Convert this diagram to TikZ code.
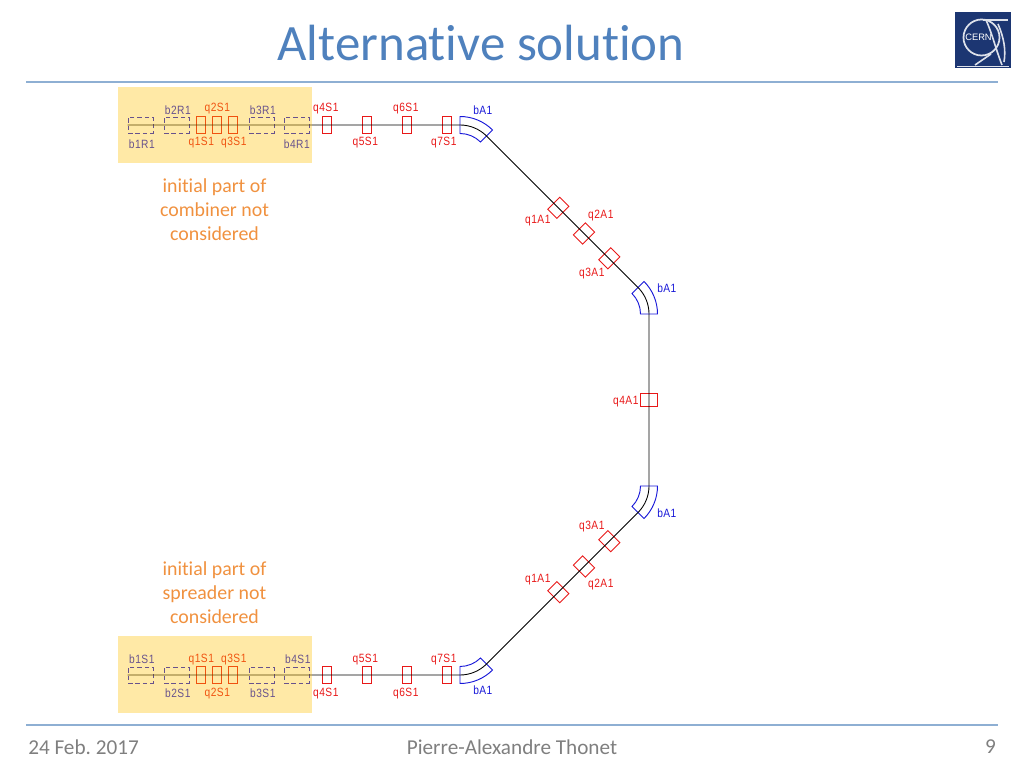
\documentclass[tikz,border=0pt]{standalone}
\usepackage{fontspec}
\setmainfont[Ligatures=NoCommon]{Carlito}
\newfontfamily\cadfont[LetterSpace=4,FakeStretch=0.85]{Liberation Sans}
\newfontfamily\logofont{Liberation Sans}
\usepackage{tikz}
\definecolor{titleblue}{HTML}{4F81BD}
\definecolor{rulegrey}{HTML}{8EAFD3}
\definecolor{footgrey}{HTML}{7F7F7F}
\definecolor{noteorange}{HTML}{F0913F}
\definecolor{bandyellow}{HTML}{FFC000}
\definecolor{cernblue}{HTML}{1C3672}
\definecolor{cadred}{HTML}{E81818}
\definecolor{cadblue}{HTML}{1818D8}
\tikzset{
  beamline/.style={black,line width=0.65pt},
  quad/.style={draw=cadred,line width=0.7pt,inner sep=0pt,minimum width=6.75pt,minimum height=12.75pt},
  quadA/.style={draw=cadred,line width=0.7pt,inner sep=0pt,minimum width=9.75pt,minimum height=12.75pt},
  dipole/.style={draw=cadblue,dash pattern=on 3.4pt off 2.2pt,line width=0.7pt,inner sep=0pt,minimum width=18.75pt,minimum height=12pt},
  magbend/.style={draw=cadblue,line width=0.7pt},
  redtag/.style={text=cadred,font=\cadfont\fontsize{9}{10}\selectfont,inner sep=0pt,xshift=0.6pt,yshift=-0.1pt},
  bluetag/.style={text=cadblue,font=\cadfont\fontsize{9}{10}\selectfont,inner sep=0pt,xshift=0.6pt,yshift=-0.1pt},
  note/.style={text=noteorange,font=\fontsize{14.9}{18}\selectfont,align=center,inner sep=0pt},
  foot/.style={text=footgrey,font=\frenchspacing\fontsize{15.9}{18}\selectfont,inner sep=0pt}
}
\newcommand{\bendmag}[4]{
\draw[magbend,shift={(#1,#2)}] (#3:29) arc[start angle=#3,end angle=#4,radius=21.75pt] -- (#4:46) arc[start angle=#4,end angle=#3,radius=34.5pt] -- cycle;
}
\begin{document}
\begin{tikzpicture}[line cap=butt,line join=miter,x=0.75pt,y=0.75pt]
\useasboundingbox (0,0) rectangle (1024,768);
% header and footer
\node[text=titleblue,font=\fontsize{38.2}{44}\selectfont,inner sep=0pt] (title) at (481,725) {Alternative solution};
\coordinate (headL) at (26,686);
\coordinate (headR) at (998,686);
\coordinate (footL) at (26,43);
\coordinate (footR) at (998,43);
\draw[rulegrey,line width=1pt] (headL) -- (headR);
\draw[rulegrey,line width=1pt] (footL) -- (footR);
\node[foot,anchor=west] (date) at (28,21) {24 Feb. 2017};
\node[foot] (speaker) at (512,21) {Pierre-Alexandre Thonet};
\node[foot,anchor=east] (page) at (996,21) {9};
% logo
\fill[cernblue] (955,700) rectangle (1011,756);
\begin{scope}
\clip (955,700) rectangle (1011,756);
\draw[white!85!cernblue,line width=1.3pt] (981.5,730.5) circle[radius=18];
\draw[white!85!cernblue,line width=1.3pt] (983,748) -- (1008,748);
\draw[white!85!cernblue,line width=1.2pt] (998,744) .. controls (1004,730) and (1006,718) .. (1004,706);
\draw[white!85!cernblue,line width=1.2pt] (986,748) .. controls (992,735) and (996,718) .. (1002,703);
\draw[white!85!cernblue,line width=1.2pt] (975,703) -- (991,714);
\draw[white!85!cernblue,line width=0.8pt] (957,701.5) -- (1009,701.5);
\end{scope}
\node[text=white,font=\logofont\fontsize{7}{8}\selectfont,inner sep=0pt] (cern) at (978.5,731) {CERN};
% dipoles and quadrupoles
\foreach \x/\name in {140.5/b1,176.5/b2,261.5/b3,296.5/b4}{
\node[dipole] (\name R) at (\x,643) {};
\node[dipole] (\name S) at (\x,93) {};
}
\foreach \x/\name in {200.5/q1,216.5/q2,232.5/q3,326.5/q4,366.5/q5,406.5/q6,446.5/q7}{
\node[quad] (\name R) at (\x,643) {};
\node[quad] (\name S) at (\x,93) {};
}
\foreach \x/\y/\name in {558.3/560.2/q1u,584/534.5/q2u,609.3/509.7/q3u}
\node[quadA,rotate=-45] (\name) at (\x,\y) {};
\foreach \x/\y/\name in {558.3/175.8/q1d,584/201.5/q2d,609.3/226.8/q3d}
\node[quadA,rotate=45] (\name) at (\x,\y) {};
\node[quadA,rotate=90] (q4m) at (649,368) {};
% bends
\bendmag{460}{605.5}{90}{45}
\bendmag{611.5}{454}{45}{0}
\bendmag{611.5}{282}{0}{-45}
\bendmag{460}{130.5}{-45}{-90}
% beam
\coordinate (bendA) at (460,643);
\coordinate (bendB) at (638.02,480.52);
\coordinate (bendC) at (649,282);
\coordinate (bendD) at (486.52,103.98);
\draw[beamline] (b1R.west) -- (bendA) arc[start angle=90,end angle=45,radius=28.125pt] -- (bendB) arc[start angle=45,end angle=0,radius=28.125pt] -- (bendC) arc[start angle=0,end angle=-45,radius=28.125pt] -- (bendD) arc[start angle=-45,end angle=-90,radius=28.125pt] -- (b1S.west);
% labels
\foreach \x/\y/\txt in {216.5/660/q2S1,325/660/q4S1,405/660/q6S1,200.5/626/q1S1,233/626/q3S1,364.5/626/q5S1,443/626/q7S1,
537/548/q1A1,600/553/q2A1,591/495/q3A1,625/367/q4A1,591/242/q3A1,600/184/q2A1,537/189/q1A1,
200.5/109/q1S1,233/109/q3S1,364.5/109/q5S1,443/109/q7S1,216.5/75/q2S1,325/75/q4S1,405/75/q6S1}
\node[redtag] (tag\x-\y) at (\x,\y) {\txt};
\foreach \x/\y/\txt in {177/658/b2R1,262/658/b3R1,141/624/b1R1,296/624/b4R1,482/658/bA1,666/480/bA1,666/255/bA1,
141/109/b1S1,297/109/b4S1,177/75/b2S1,262/75/b3S1,482/78/bA1}
\node[bluetag] (tag\x-\y) at (\x,\y) {\txt};
% overlays
\fill[bandyellow,fill opacity=0.35] (118,605) rectangle (311.5,681);
\fill[bandyellow,fill opacity=0.35] (118,55.5) rectangle (311.5,132);
\node[note] (noteR) at (214.5,558.4) {initial part of\\combiner not\\considered};
\node[note] (noteS) at (214.5,175.4) {initial part of\\spreader not\\considered};
\end{tikzpicture}
\end{document}
